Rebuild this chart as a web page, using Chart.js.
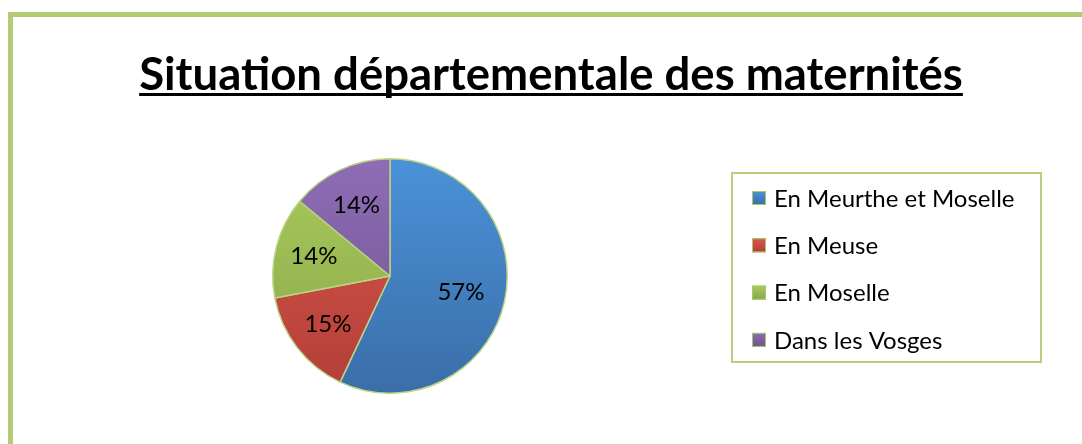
<!DOCTYPE html>
<html>
<head>
<meta charset="utf-8">
<script src="https://cdn.jsdelivr.net/npm/chart.js@4.4.1/dist/chart.umd.min.js"></script>
<style>
  html, body { margin: 0; padding: 0; background: #fff; overflow: hidden; }
  #frame {
    position: absolute; left: 8px; top: 12px;
    width: 1100px; height: 500px;
    border: 5px solid #b3cb74; box-sizing: border-box;
  }
  #wrap { position: absolute; left: 0; top: 0; width: 1082px; height: 444px; }
</style>
</head>
<body>
<div id="frame"></div>
<div id="wrap"><canvas id="chart"></canvas></div>
<script>
// --------------------
// Data
// --------------------
const chartTitle = 'Situation départementale des maternités';
const departments = ['En Meurthe et Moselle', 'En Meuse', 'En Moselle', 'Dans les Vosges'];
const shares = [57, 15, 14, 14];
const colorsTop = ['#4b92d8', '#d9564b', '#a9ca5d', '#8f6db5'];
const colorsBottom = ['#3a6ea8', '#b23f38', '#89a648', '#6c528f'];

const FONT = 'Lato, "Open Sans", sans-serif';

function sliceGradient(ctx, i) {
  const area = ctx.chart.chartArea;
  if (!area) return colorsTop[i];
  const g = ctx.chart.ctx.createLinearGradient(0, area.top, 0, area.bottom);
  g.addColorStop(0, colorsTop[i]);
  g.addColorStop(1, colorsBottom[i]);
  return g;
}

// title with underline
const titlePlugin = {
  id: 'ulTitle',
  afterDraw(chart) {
    const c = chart.ctx;
    c.save();
    c.font = 'bold 45.5px ' + FONT;
    c.fillStyle = '#000';
    c.textAlign = 'center';
    c.textBaseline = 'alphabetic';
    const cx = 551, by = 90;
    c.fillText(chartTitle, cx, by);
    const w = c.measureText(chartTitle).width;
    c.fillRect(cx - w / 2, by + 3, w, 3);
    c.restore();
  }
};

// percentage labels inside slices
const pctPlugin = {
  id: 'pctLabels',
  afterDatasetsDraw(chart) {
    const c = chart.ctx;
    const meta = chart.getDatasetMeta(0);
    const total = shares.reduce((a, b) => a + b, 0);
    c.save();
    c.font = '24px ' + FONT;
    c.fillStyle = '#000';
    c.textAlign = 'center';
    c.textBaseline = 'middle';
    meta.data.forEach((arc, i) => {
      const p = arc.getProps(['x', 'y', 'startAngle', 'endAngle', 'outerRadius'], true);
      const mid = (p.startAngle + p.endAngle) / 2;
      const r = p.outerRadius * (i === 0 ? 0.62 : 0.67);
      c.fillText(Math.round(shares[i] / total * 100) + '%', p.x + Math.cos(mid) * r, p.y + Math.sin(mid) * r);
    });
    c.restore();
  }
};

// boxed legend on the right
const legendPlugin = {
  id: 'boxLegend',
  afterDraw(chart) {
    const c = chart.ctx;
    c.save();
    c.strokeStyle = '#b7d07f';
    c.lineWidth = 2;
    c.strokeRect(732, 173, 309, 189);
    c.font = '24px ' + FONT;
    c.textBaseline = 'middle';
    c.textAlign = 'left';
    departments.forEach((name, i) => {
      const y = 198 + i * 47.3;
      const g = c.createLinearGradient(0, y - 7, 0, y + 7);
      g.addColorStop(0, colorsTop[i]);
      g.addColorStop(1, colorsBottom[i]);
      c.fillStyle = g;
      c.fillRect(752, y - 7, 14, 14);
      c.strokeStyle = '#a9c86a';
      c.lineWidth = 1;
      c.strokeRect(752.5, y - 6.5, 13, 13);
      c.fillStyle = '#000';
      c.fillText(name, 774, y + 1);
    });
    c.restore();
  }
};

new Chart(document.getElementById('chart'), {
  type: 'pie',
  data: {
    labels: departments,
    datasets: [{
      data: shares,
      backgroundColor: ctx => sliceGradient(ctx, ctx.dataIndex),
      borderColor: '#bcd385',
      borderWidth: 1.5
    }]
  },
  options: {
    responsive: true,
    maintainAspectRatio: false,
    animation: false,
    layout: { padding: { top: 158, bottom: 50, left: 272, right: 574 } },
    plugins: {
      legend: { display: false },
      tooltip: { enabled: false },
      title: { display: false }
    }
  },
  plugins: [titlePlugin, pctPlugin, legendPlugin]
});
</script>
</body>
</html>
